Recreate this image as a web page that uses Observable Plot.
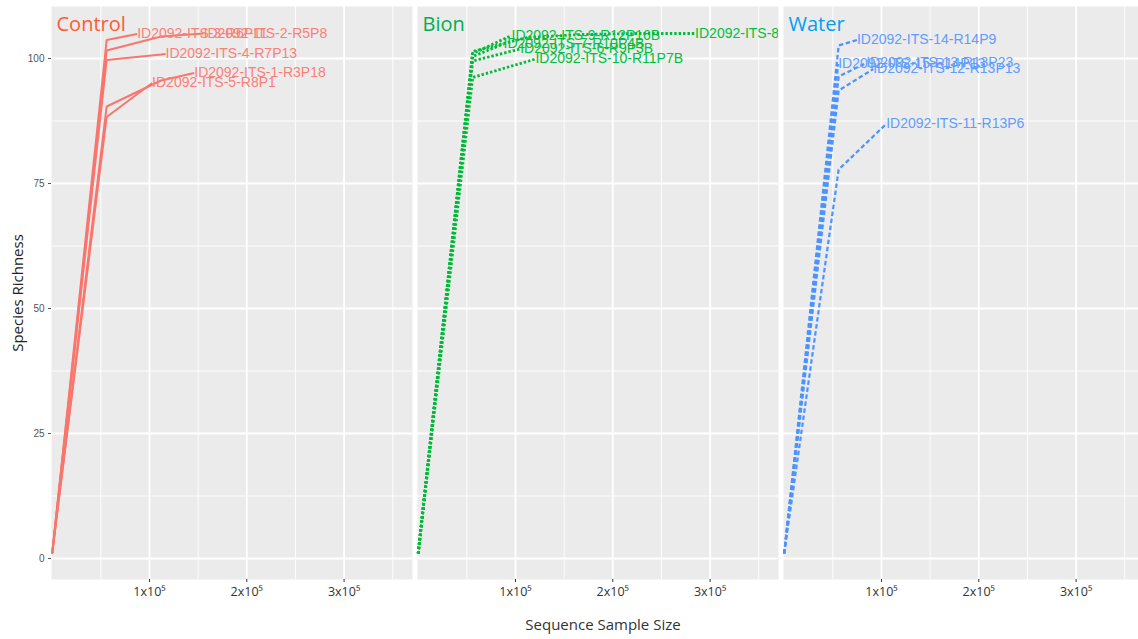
<!DOCTYPE html>
<html><head><meta charset="utf-8">
<script src="https://cdn.jsdelivr.net/npm/d3@7"></script>
<script src="https://cdn.jsdelivr.net/npm/@observablehq/plot@0.6"></script>
<style>
html,body{margin:0;padding:0;background:#fff;overflow:hidden;width:1138px;height:639px}
#chart{width:1144px;overflow:visible}
#chart svg{display:block;max-width:none !important;width:1144px;height:639px}
</style></head><body><div id="chart"></div>
<script>
// Facet groups and colours
const groups = ["Control", "Bion", "Water"];
const lineColors = ["#F8766D", "#00BA38", "#4C93FF"];
const labelColors = ["#FA8077", "#00BF3C", "#619CFF"];
const titleColors = ["#FF5A36", "#00B04F", "#009FF5"];

// Rarefaction curves: reads (sequence sample size) and richness
const controlCurves = [
  {sample: "ID2092-ITS-3-R6P11", reads: [1, 56000, 87300], richness: [1, 103.7, 104.9]},
  {sample: "ID2092-ITS-2-R5P8", reads: [1, 56000, 112000, 155500], richness: [1, 101.6, 104.4, 105]},
  {sample: "ID2092-ITS-4-R7P13", reads: [1, 56000, 112000, 116500], richness: [1, 99.7, 100.8, 100.9]},
  {sample: "ID2092-ITS-1-R3P18", reads: [1, 56000, 112000, 146000], richness: [1, 90.4, 95.6, 97.1]},
  {sample: "ID2092-ITS-5-R8P1", reads: [1, 56000, 102700], richness: [1, 88.3, 95.1]}
];
const bionCurves = [
  {sample: "ID2092-ITS-8-R10P1B", reads: [1, 56000, 112000, 168000, 224000, 280000, 284600], richness: [1, 101.4, 104.2, 104.8, 105, 105, 105]},
  {sample: "ID2092-ITS-9-R12P16B", reads: [1, 56000, 95900], richness: [1, 101, 104.6]},
  {sample: "ID2092-ITS-7-R10P4B", reads: [1, 56000, 87700], richness: [1, 100.4, 102.9]},
  {sample: "ID2092-ITS-6-R9P3B", reads: [1, 56000, 104800], richness: [1, 99.5, 101.9]},
  {sample: "ID2092-ITS-10-R11P7B", reads: [1, 56000, 112000, 120500], richness: [1, 96.2, 99.4, 99.9]}
];
const waterCurves = [
  {sample: "ID2092-ITS-14-R14P9", reads: [1, 56000, 74800], richness: [1, 102.6, 103.7]},
  {sample: "ID2092-ITS-15-R14P13", reads: [1, 55500], richness: [1, 98.9]},
  {sample: "ID2092-ITS-13-R13P23", reads: [1, 56000, 84300], richness: [1, 96.4, 99.1]},
  {sample: "ID2092-ITS-12-R13P13", reads: [1, 56000, 91500], richness: [1, 93.6, 97.9]},
  {sample: "ID2092-ITS-11-R13P6", reads: [1, 56000, 104800], richness: [1, 77.8, 86.9]}
];

const xTicks = [100000, 200000, 300000];
const xMinor = [50000, 150000, 250000, 350000];
const yTicks = [0, 25, 50, 75, 100];
const yMinor = [12.5, 37.5, 62.5, 87.5];

// Build tables
const curvesByGroup = [controlCurves, bionCurves, waterCurves];
const rows = [];
const ends = [];
curvesByGroup.forEach((curves, gi) => {
  curves.forEach(c => {
    c.reads.forEach((r, i) => rows.push({group: groups[gi], sample: c.sample, reads: r, richness: c.richness[i]}));
    const n = c.reads.length - 1;
    ends.push({group: groups[gi], sample: c.sample, reads: c.reads[n], richness: c.richness[n]});
  });
});

const dash = {Control: null, Bion: "2.4,2", Water: "4.5,2.6"};
const widths = {Control: 2, Bion: 2.8, Water: 2.2};

const marks = [
  Plot.frame({fill: "#EBEBEB", stroke: null}),
  Plot.ruleX(xMinor, {stroke: "#fff", strokeWidth: 0.9}),
  Plot.ruleY(yMinor, {stroke: "#fff", strokeWidth: 0.9}),
  Plot.ruleX(xTicks, {stroke: "#fff", strokeWidth: 1.8}),
  Plot.ruleY(yTicks, {stroke: "#fff", strokeWidth: 1.8}),
  Plot.axisY({ticks: yTicks, tickSize: 3, tickPadding: 4, fontSize: 10, fontFamily: "Liberation Sans, Arial, sans-serif", color: "#555", label: null}),
  Plot.axisX({ticks: xTicks, tickFormat: d => `${d / 1e5}x10⁵`, tickSize: 3, tickPadding: 5, fontSize: 12.5, fontFamily: "Open Sans, sans-serif", color: "#333", label: null})
];
groups.forEach((g, gi) => {
  marks.push(Plot.line(rows.filter(d => d.group === g), {
    x: "reads", y: "richness", z: "sample", fx: "group",
    stroke: lineColors[gi], strokeWidth: widths[g], strokeDasharray: dash[g],
    strokeLinecap: "butt", strokeLinejoin: "miter"
  }));
});
groups.forEach((g, gi) => {
  marks.push(Plot.text(ends.filter(d => d.group === g), {
    x: "reads", y: "richness", fx: "group", text: "sample",
    textAnchor: "start", fill: labelColors[gi], fontSize: 14,
    fontFamily: "Liberation Sans, Arial, sans-serif", clip: true
  }));
  marks.push(Plot.text([g], {
    fx: d => d, text: d => d, frameAnchor: "top-left", textAnchor: "start", lineAnchor: "top",
    dx: 5, dy: 10, fill: titleColors[gi], fontSize: 20, fontFamily: "Open Sans, sans-serif"
  }));
});

const plot = Plot.plot({
  width: 1144, height: 639,
  marginLeft: 51, marginRight: 0, marginTop: 6, marginBottom: 60,
  style: {background: "#fff", overflow: "visible", maxWidth: "none"},
  fx: {domain: groups, paddingInner: 5 / 366, paddingOuter: 0, axis: null, label: null, round: false},
  x: {domain: [-700, 370300]},
  y: {domain: [-4.2, 110.4]},
  marks
});

const svg = d3.select(plot);
svg.append("text")
  .attr("x", 603).attr("y", 630)
  .attr("text-anchor", "middle")
  .attr("font-family", "Open Sans, sans-serif").attr("font-size", 15).attr("fill", "#333")
  .text("Sequence Sample Size");
svg.append("text")
  .attr("transform", "translate(23,293) rotate(-90)")
  .attr("text-anchor", "middle")
  .attr("font-family", "Open Sans, sans-serif").attr("font-size", 15).attr("fill", "#222")
  .text("Species Richness");

document.getElementById("chart").appendChild(plot);
</script></body></html>
